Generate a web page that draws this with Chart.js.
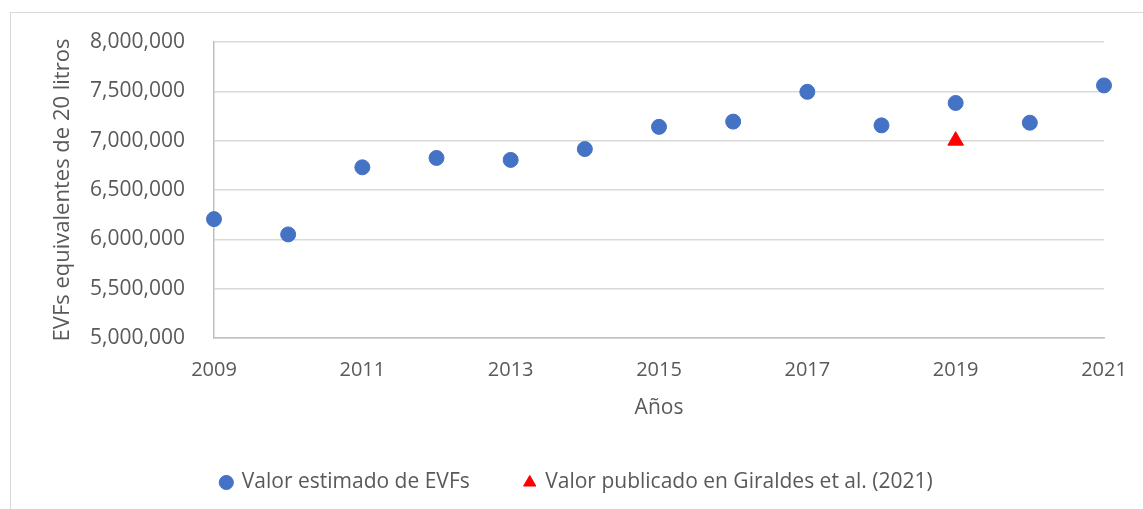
<!DOCTYPE html>
<html>
<head>
<meta charset="utf-8">
<script src="https://cdn.jsdelivr.net/npm/chart.js@4"></script>
<style>
  html, body { margin: 0; padding: 0; background: #fff; }
  #wrap { position: relative; width: 1143px; height: 509px; overflow: hidden; }
  #frame { position: absolute; left: 10px; top: 12px; width: 1200px; height: 600px; border: 1px solid #d9d9d9; box-sizing: border-box; }
  canvas { position: absolute; left: 0; top: 0; }
</style>
</head>
<body>
<div id="wrap">
  <div id="frame"></div>
  <canvas id="chart" width="1143" height="509"></canvas>
</div>
<script>
// data
const years = [2009, 2010, 2011, 2012, 2013, 2014, 2015, 2016, 2017, 2018, 2019, 2020, 2021];
const estimated = [6205000, 6050000, 6730000, 6825000, 6805000, 6915000, 7140000, 7193000, 7495000, 7155000, 7382000, 7182000, 7560000];
const publishedYears = [2019];
const published = [7000000];
const seriesNames = ["Valor estimado de EVFs", "Valor publicado en Giraldes et al. (2021)"];
const yTitle = "EVFs equivalentes de 20 litros";
const xTitle = "Años";

const FONT = "'Open Sans', 'Noto Sans', sans-serif";
const TXT = "#595959";

// legend needs a wide gap between items but not a tall box
const legendSize = {
  id: "legendSize",
  beforeInit(chart) {
    const fit = chart.legend.fit;
    chart.legend.fit = function () {
      fit.bind(chart.legend)();
      this.height = 92;
    };
  }
};

new Chart(document.getElementById("chart"), {
  type: "scatter",
  data: {
    datasets: [
      {
        label: seriesNames[0],
        data: years.map((y, i) => ({ x: y, y: estimated[i] })),
        backgroundColor: "#4472c4",
        borderColor: "#4472c4",
        pointStyle: "circle",
        pointRadius: 7.5,
        pointHoverRadius: 7.5,
        clip: false
      },
      {
        label: seriesNames[1],
        data: publishedYears.map((y, i) => ({ x: y, y: published[i] })),
        backgroundColor: "#ff0000",
        borderColor: "#ff0000",
        pointStyle: "triangle",
        pointRadius: 9,
        pointHoverRadius: 9,
        clip: false
      }
    ]
  },
  options: {
    responsive: false,
    animation: false,
    layout: { padding: { left: 50, right: 39, top: 42, bottom: 0 } },
    plugins: {
      tooltip: { enabled: false },
      legend: {
        position: "bottom",
        labels: {
          usePointStyle: true,
          boxWidth: 10,
          boxHeight: 10,
          padding: 55,
          color: TXT,
          font: { family: FONT, size: 21 }
        }
      }
    },
    scales: {
      x: {
        type: "linear",
        min: 2009,
        max: 2021,
        grid: { display: false },
        border: { display: true, color: "#bfbfbf", width: 1.5 },
        ticks: {
          stepSize: 2,
          padding: 12,
          color: TXT,
          font: { family: FONT, size: 20 },
          callback: v => String(v)
        },
        title: {
          display: true,
          text: xTitle,
          color: TXT,
          font: { family: FONT, size: 21 },
          padding: { top: 0, bottom: -4 }
        },
        afterFit: s => { s.height = 79; }
      },
      y: {
        min: 5000000,
        max: 8000000,
        grid: { color: "#d9d9d9", lineWidth: 1.5, drawTicks: false },
        border: { display: true, color: "#bfbfbf", width: 1.5 },
        ticks: {
          stepSize: 500000,
          padding: 29,
          color: TXT,
          font: { family: FONT, size: 21 },
          callback: v => v.toLocaleString("en-US")
        },
        title: {
          display: true,
          text: yTitle,
          color: TXT,
          font: { family: FONT, size: 22 },
          padding: { top: 0, bottom: 0 }
        },
        afterFit: s => { s.width = 164; }
      }
    }
  },
  plugins: [legendSize]
});
</script>
</body>
</html>
